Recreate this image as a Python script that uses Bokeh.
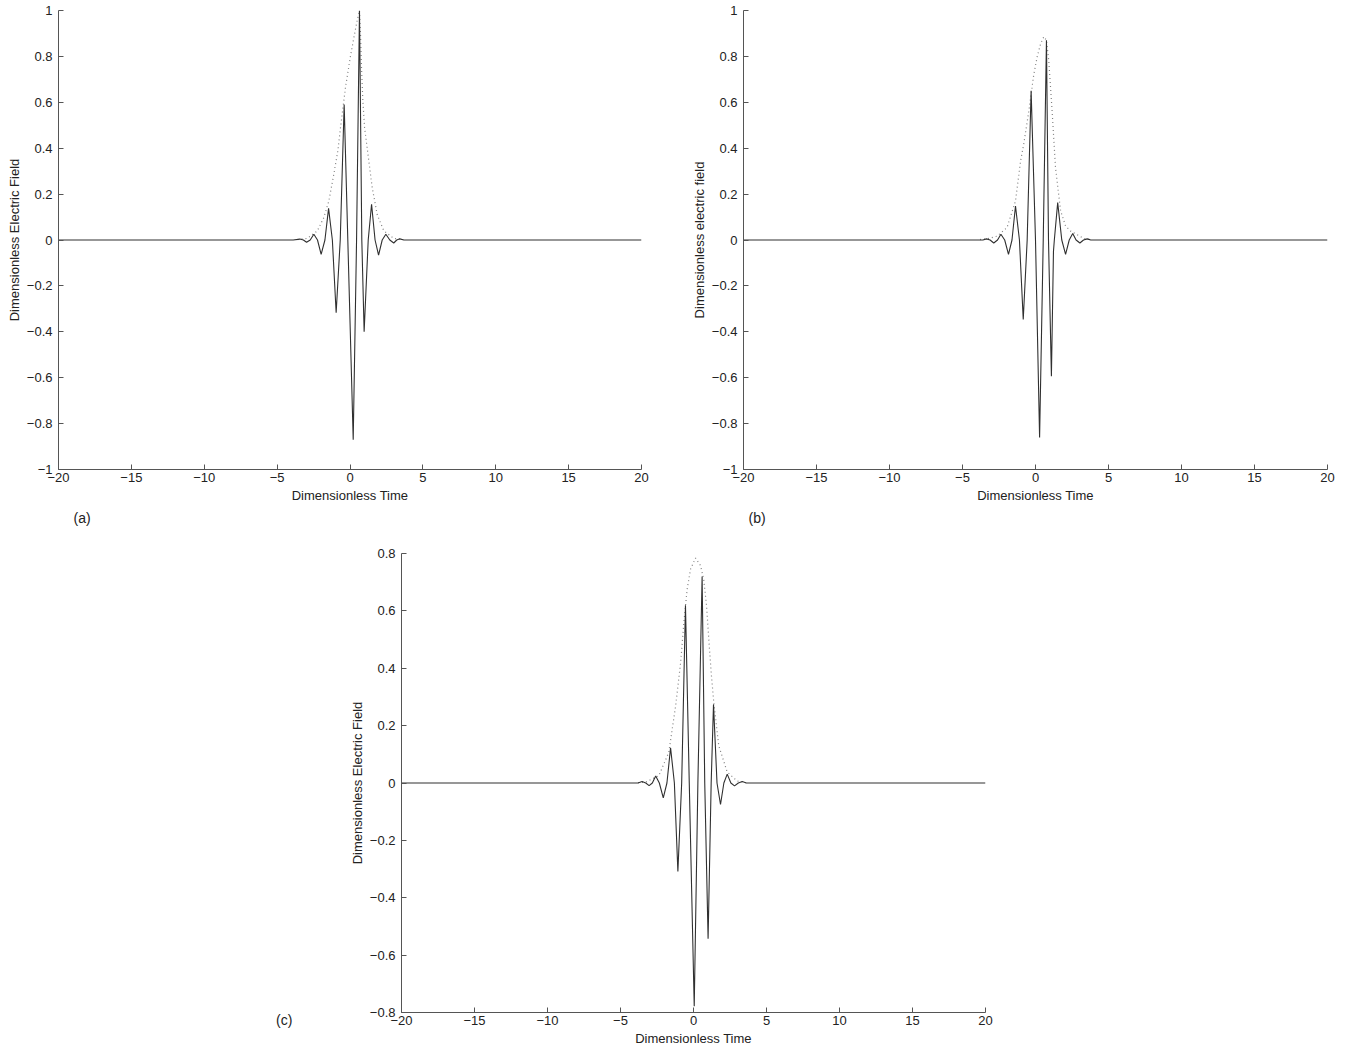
from bokeh.plotting import figure
from bokeh.layouts import column, row, Spacer
from bokeh.models import Range1d, FixedTicker, CustomJSTickFormatter, Title, Div
from bokeh.embed import file_html
from bokeh.resources import INLINE

# ---------------- data ----------------
X_TICKS = [-20, -15, -10, -5, 0, 5, 10, 15, 20]
Y_TICKS_AB = [-1, -0.8, -0.6, -0.4, -0.2, 0, 0.2, 0.4, 0.6, 0.8, 1]
Y_TICKS_C = [-0.8, -0.6, -0.4, -0.2, 0, 0.2, 0.4, 0.6, 0.8]

# panel (a): field
T_A = [-20, -3.9, -3.44, -3.2, -2.98, -2.73, -2.48, -2.23, -1.98, -1.72, -1.47, -1.21,
       -0.95, -0.67, -0.40, -0.15, 0.22, 0.45, 0.65, 0.81, 0.97, 1.25, 1.48, 1.72,
       1.96, 2.21, 2.46, 2.73, 3.0, 3.21, 3.42, 3.7, 20]
E_A = [0, 0, 0.004, 0, -0.010, 0, 0.025, 0, -0.063, 0, 0.138, 0,
       -0.317, 0, 0.59, 0, -0.87, 0, 1.0, 0, -0.40, 0, 0.156, 0,
       -0.066, 0, 0.025, 0, -0.013, 0, 0.005, 0, 0]
# panel (a): envelope
ENV_T_A = [-3.6, -2.94, -2.25, -1.8, -1.45, -1.11, -0.83, -0.65, -0.31, 0.03, 0.26, 0.49,
           0.65, 0.72, 0.79, 0.88, 1.0, 1.18, 1.52, 1.87, 2.32, 3.0, 3.6]
ENV_E_A = [0.002, 0.007, 0.039, 0.097, 0.17, 0.287, 0.39, 0.49, 0.665, 0.80, 0.88, 0.956,
           1.0, 0.90, 0.75, 0.61, 0.49, 0.40, 0.23, 0.11, 0.04, 0.007, 0.002]

# panel (b): field
T_B = [-20, -3.6, -3.36, -3.11, -2.86, -2.60, -2.37, -2.11, -1.85, -1.61, -1.37, -1.10,
       -0.84, -0.57, -0.30, 0.0, 0.28, 0.53, 0.75, 0.89, 1.09, 1.23, 1.29, 1.52,
       1.80, 2.06, 2.31, 2.55, 2.78, 3.04, 3.29, 3.54, 3.79, 20]
E_B = [0, 0, 0.005, 0, -0.013, 0, 0.025, 0, -0.063, 0, 0.148, 0,
       -0.346, 0, 0.65, 0, -0.86, 0, 0.87, 0, -0.594, -0.05, 0, 0.163,
       0, -0.063, 0, 0.028, 0, -0.013, 0, 0.005, 0, 0]
# panel (b): envelope
ENV_T_B = [-3.8, -3.26, -2.62, -1.95, -1.37, -1.02, -0.80, -0.46, -0.12, 0.12, 0.35, 0.57,
           0.75, 0.91, 1.14, 1.37, 1.72, 2.06, 2.40, 3.31, 3.8]
ENV_E_B = [0.002, 0.006, 0.017, 0.054, 0.17, 0.345, 0.42, 0.56, 0.72, 0.80, 0.855, 0.886,
           0.87, 0.78, 0.56, 0.316, 0.127, 0.061, 0.039, 0.007, 0.002]

# panel (c): field
T_C = [-20, -3.8, -3.52, -3.27, -3.04, -2.82, -2.59, -2.34, -2.07, -1.82, -1.57, -1.31,
       -1.07, -0.81, -0.55, -0.29, 0.05, 0.30, 0.59, 0.77, 1.0, 1.21, 1.37, 1.61,
       1.85, 2.08, 2.31, 2.56, 2.81, 3.07, 3.34, 3.62, 20]
E_C = [0, 0, 0.005, 0, -0.009, 0, 0.024, 0, -0.052, 0, 0.123, 0,
       -0.308, 0, 0.62, 0, -0.778, 0, 0.72, 0, -0.543, 0, 0.274, 0,
       -0.075, 0, 0.031, 0, -0.010, 0, 0.005, 0, 0]
# panel (c): envelope
ENV_T_C = [-3.8, -3.28, -2.37, -1.69, -1.22, -0.88, -0.66, -0.43, -0.20, 0.14, 0.48, 0.70,
           0.89, 1.05, 1.21, 1.39, 1.73, 2.31, 2.99, 3.6]
ENV_E_C = [0.001, 0.003, 0.026, 0.107, 0.27, 0.42, 0.56, 0.677, 0.746, 0.784, 0.758, 0.71,
           0.62, 0.50, 0.386, 0.28, 0.13, 0.038, 0.007, 0.001]

FONT = "Liberation Sans"
FMT = CustomJSTickFormatter(code=(
    'var v = Math.round(tick*10)/10; var s = String(Math.abs(v));'
    'return (v < 0 ? "\\u2212" : "") + s;'))


def make_panel(t, e, env_t, env_e, y_ticks, ylab, tag, tag_offset,
               fw, fh, bl, br, bt, bb):
    ymin, ymax = y_ticks[0], y_ticks[-1]
    p = figure(frame_width=fw, frame_height=fh,
               min_border_left=bl, min_border_right=br,
               min_border_top=bt, min_border_bottom=bb,
               x_range=Range1d(-20, 20), y_range=Range1d(ymin, ymax),
               output_backend="svg", toolbar_location=None,
               background_fill_color="white", border_fill_color="white")
    p.outline_line_color = None
    p.xgrid.grid_line_color = None
    p.ygrid.grid_line_color = None

    p.line(env_t, env_e, line_color="#808080", line_width=1.2, line_dash="1 3")
    p.line(t, e, line_color="#303030", line_width=1.1)

    for ax in (p.xaxis[0], p.yaxis[0]):
        ax.axis_line_color = "#555555"
        ax.axis_line_width = 1
        ax.major_tick_line_color = "#555555"
        ax.major_tick_in = 5
        ax.major_tick_out = 0
        ax.minor_tick_line_color = None
        ax.major_label_text_font = FONT
        ax.major_label_text_font_size = "13px"
        ax.major_label_text_color = "#222222"
        ax.axis_label_text_font = FONT
        ax.axis_label_text_font_size = "13px"
        ax.axis_label_text_font_style = "normal"
        ax.axis_label_text_color = "#222222"
        ax.formatter = FMT

    p.xaxis.ticker = FixedTicker(ticks=X_TICKS)
    p.yaxis.ticker = FixedTicker(ticks=y_ticks)
    p.xaxis.axis_label = "Dimensionless Time"
    p.yaxis.axis_label = ylab
    p.xaxis.major_label_standoff = 3
    p.xaxis.axis_label_standoff = 3
    p.yaxis.major_label_standoff = 6
    p.yaxis.axis_label_standoff = 2

    if tag is not None:
        p.add_layout(Title(text=tag, align="left", offset=tag_offset,
                           text_font=FONT, text_font_size="14px",
                           text_font_style="normal", text_color="#222222",
                           standoff=4), "below")
    return p


# frame positions: (a) 58..641 x 10..469 ; (b) 743..1327 x 10..469 ; (c) 401..985 x 553..1012
pa = make_panel(T_A, E_A, ENV_T_A, ENV_E_A, Y_TICKS_AB,
                "Dimensionless Electric Field", "(a)", 15,
                583, 459, 58, 44, 10, 61)
pb = make_panel(T_B, E_B, ENV_T_B, ENV_E_B, Y_TICKS_AB,
                "Dimensionless electric field", "(b)", 5,
                584, 459, 58, 20, 10, 61)
pc = make_panel(T_C, E_C, ENV_T_C, ENV_E_C, Y_TICKS_C,
                "Dimensionless Electric Field", None, 0,
                584, 459, 61, 20, 23, 36)

tag_c = Div(text="(c)", width=40, height=18, margin=(0, 0, 0, 276),
            styles={"font-family": "Liberation Sans", "font-size": "14px",
                    "color": "#222222", "line-height": "16px"})
left_col = column(Spacer(width=340, height=482), tag_c, width=340)

layout = column(row(pa, pb), row(left_col, pc))

open("out.html", "w").write(file_html(layout, INLINE))
